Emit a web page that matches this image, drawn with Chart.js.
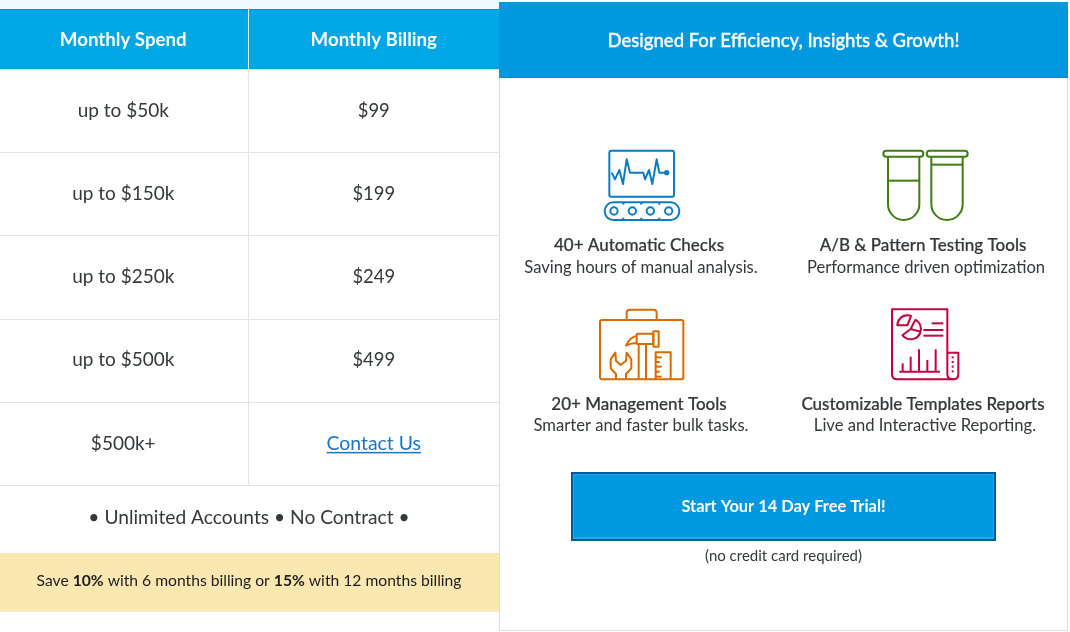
<!DOCTYPE html>
<html><head><meta charset="utf-8">
<style>html,body{margin:0;padding:0;background:#fff}canvas{display:block}</style>
<script src="https://cdn.jsdelivr.net/npm/chart.js@4/dist/chart.umd.min.js"></script>
</head><body>
<canvas id="c" width="1070" height="632"></canvas>
<script>
const columnHeaders = ['Monthly Spend', 'Monthly Billing'];
const spendTiers = ['up to $50k', 'up to $150k', 'up to $250k', 'up to $500k', '$500k+'];
const billingPrices = ['$99', '$199', '$249', '$499', 'Contact Us'];
const noteText = '• Unlimited Accounts • No Contract •';
const saveSegments = [['Save ', 0], ['10%', 1], [' with 6 months billing or ', 0], ['15%', 1], [' with 12 months billing', 0]];
const panelTitle = 'Designed For Efficiency, Insights & Growth!';
const featureTitles = ['40+ Automatic Checks', 'A/B & Pattern Testing Tools', '20+ Management Tools', 'Customizable Templates Reports'];
const featureTexts = ['Saving hours of manual analysis.', 'Performance driven optimization', 'Smarter and faster bulk tasks.', 'Live and Interactive Reporting.'];
const ctaLabel = 'Start Your 14 Day Free Trial!';
const ctaNote = '(no credit card required)';

const FONT = 'Lato, sans-serif';
const INK = '#33383a';

function text(ctx, s, x, y, font, color, embolden) {
  ctx.font = font; ctx.fillStyle = color; ctx.textAlign = 'center'; ctx.textBaseline = 'middle';
  ctx.fillText(s, x, y);
  if (embolden) { ctx.strokeStyle = color; ctx.lineWidth = embolden; ctx.lineJoin = 'round'; ctx.strokeText(s, x, y); }
}
function rr(ctx, x, y, w, h, r) { ctx.beginPath(); ctx.roundRect(x, y, w, h, r); ctx.stroke(); }
function poly(ctx, pts) {
  ctx.beginPath();
  pts.forEach((p, i) => i ? ctx.lineTo(p[0], p[1]) : ctx.moveTo(p[0], p[1]));
  ctx.stroke();
}
function iconSpace(ctx, ox, oy, color, lw, fn) {
  ctx.save(); ctx.translate(ox, oy); ctx.scale(1 / 3, 1 / 3);
  ctx.strokeStyle = color; ctx.fillStyle = color; ctx.lineWidth = lw; ctx.lineJoin = 'round'; ctx.lineCap = 'butt';
  fn(); ctx.restore();
}
function iconMonitor(ctx) {
  iconSpace(ctx, 590, 140, '#0a7dc2', 6, () => {
    rr(ctx, 58, 32, 194, 138, 6);
    poly(ctx, [[65, 98], [75, 118], [88, 90], [99, 132], [110, 58], [120, 98], [160, 98], [165, 118], [177, 90], [187, 132], [200, 58], [208, 98], [230, 98]]);
    ctx.beginPath(); ctx.arc(230, 98, 8, 0, 7); ctx.fill();
    rr(ctx, 44, 187, 224, 53, 26);
    [72, 127, 181, 236].forEach(x => { ctx.beginPath(); ctx.arc(x, 213, 11, 0, 7); ctx.stroke(); });
    [100, 154, 208].forEach(x => { poly(ctx, [[x, 187], [x, 194]]); poly(ctx, [[x, 233], [x, 240]]); });
  });
}
function iconTubes(ctx) {
  iconSpace(ctx, 590, 140, '#3f7d12', 6, () => {
    [[880, 1000, 894, 988, 122], [1010, 1133, 1024, 1118, 74]].forEach(t => {
      rr(ctx, t[0], 32, t[1] - t[0], 18, 9);
      const r = (t[3] - t[2]) / 2;
      ctx.beginPath(); ctx.moveTo(t[2], 50); ctx.lineTo(t[2], 240 - r);
      ctx.arc(t[2] + r, 240 - r, r, Math.PI, 0, true); ctx.lineTo(t[3], 50); ctx.stroke();
      poly(ctx, [[t[2], t[4]], [t[3], t[4]]]);
    });
  });
}
function iconToolbox(ctx) {
  iconSpace(ctx, 590, 300, '#d96a00', 6, () => {
    rr(ctx, 30, 60, 250, 178, 6);
    ctx.beginPath(); ctx.moveTo(110, 60); ctx.lineTo(110, 38); ctx.quadraticCurveTo(110, 29, 120, 29);
    ctx.lineTo(190, 29); ctx.quadraticCurveTo(200, 29, 200, 38); ctx.lineTo(200, 60); ctx.stroke();
    poly(ctx, [[146, 132], [146, 238]]); poly(ctx, [[168, 132], [168, 238]]);
    rr(ctx, 140, 101, 50, 31, 2); rr(ctx, 190, 94, 16, 46, 1);
    ctx.beginPath(); ctx.moveTo(140, 108); ctx.quadraticCurveTo(118, 112, 108, 137); ctx.quadraticCurveTo(122, 128, 140, 130); ctx.stroke();
    poly(ctx, [[78, 238], [78, 222], [62, 205], [62, 178], [76, 158], [78, 182], [92, 195], [108, 182], [110, 158], [124, 178], [124, 205], [108, 222], [108, 238]]);
    poly(ctx, [[197, 238], [197, 157], [242, 157], [242, 238]]);
    [[172, 18], [186, 12], [200, 18], [215, 12], [230, 18]].forEach(t => poly(ctx, [[197, t[0]], [197 + t[1], t[0]]]));
  });
}
function iconReport(ctx) {
  iconSpace(ctx, 590, 300, '#c4003f', 6, () => {
    ctx.beginPath(); ctx.moveTo(1072, 222); ctx.lineTo(1072, 28); ctx.lineTo(906, 28); ctx.lineTo(906, 222);
    ctx.quadraticCurveTo(906, 238, 922, 238); ctx.lineTo(1090, 238); ctx.quadraticCurveTo(1105, 238, 1105, 222);
    ctx.lineTo(1105, 158); ctx.lineTo(1072, 158); ctx.stroke();
    ctx.beginPath(); ctx.moveTo(1072, 222); ctx.quadraticCurveTo(1072, 238, 1090, 238); ctx.stroke();
    [172, 186, 200, 214].forEach(y => poly(ctx, [[1088, y - 3], [1088, y + 3]]));
    ctx.beginPath(); ctx.arc(962, 87, 31, -1.15, 2.5); ctx.lineTo(962, 87); ctx.lineTo(976, 59); ctx.stroke();
    poly(ctx, [[962, 87], [992, 95]]);
    ctx.beginPath(); ctx.moveTo(922, 76); ctx.arc(952, 76, 30, Math.PI, -1.2); ctx.lineTo(952, 76); ctx.closePath(); ctx.stroke();
    poly(ctx, [[1025, 70], [1060, 70]]); poly(ctx, [[1000, 90], [1060, 90]]); poly(ctx, [[1000, 107], [1060, 107]]);
    poly(ctx, [[928, 215], [1050, 215]]);
    [[938, 190], [962, 170], [987, 148], [1012, 180], [1037, 148]].forEach(b => poly(ctx, [[b[0], 215], [b[0], b[1]]]));
  });
}

const tablePanel = {
  id: 'tablePanel',
  afterLayout(chart) {
    // the reference's first column is slightly narrower: start the x scale just off-canvas
    const x = chart.scales.x;
    x.left = -2; x.width = x.right - x.left; x.configure();
  },
  beforeDraw(chart) {
    const { ctx, scales: { x }, chartArea: a } = chart;
    ctx.save();
    ctx.fillStyle = '#f0f9fd'; ctx.fillRect(0, 0, a.right, 9);
    ctx.fillStyle = '#00a7e5'; ctx.fillRect(0, 9, a.right, a.top - 9);
    ctx.fillStyle = '#0395d2'; ctx.fillRect(0, 9, a.right, 1); ctx.fillRect(0, a.top - 1, a.right, 1);
    ctx.fillStyle = '#e8f6fc'; ctx.fillRect((x.getPixelForValue(0) + x.getPixelForValue(1)) / 2 - 0.5, 9, 1, a.top - 9);
    ctx.restore();
  },
  afterDraw(chart) {
    const { ctx, chartArea: a } = chart;
    ctx.save();
    // table cells sit at the points the library placed
    chart.getDatasetMeta(0).data.forEach((pt, i) => text(ctx, spendTiers[i], pt.x, pt.y - 0.5, '400 19px ' + FONT, INK));
    chart.getDatasetMeta(1).data.forEach((pt, i) => {
      const s = billingPrices[i], link = s === 'Contact Us';
      text(ctx, s, pt.x, pt.y - 0.5, (link ? '400 19.4px ' : '400 18.4px ') + FONT, link ? '#1a76c4' : INK);
      if (link) {
        const w = ctx.measureText(s).width;
        ctx.fillStyle = '#1a76c4'; ctx.fillRect(pt.x - w / 2, pt.y + 8, w, 1.5);
      }
    });
    text(ctx, noteText, 249, 518, '400 19.2px ' + FONT, INK);
    ctx.fillStyle = '#fbe7b0'; ctx.fillRect(0, 553, a.right, 58);
    ctx.fillStyle = '#eeeeee'; ctx.fillRect(0, 611, a.right, 1);
    // mixed weight savings line
    const fonts = ['400 15.67px ' + FONT, '700 15.67px ' + FONT];
    let total = 0;
    saveSegments.forEach(s => { ctx.font = fonts[s[1]]; total += ctx.measureText(s[0]).width; });
    let cx = 249 - total / 2;
    ctx.textAlign = 'left'; ctx.textBaseline = 'middle'; ctx.fillStyle = '#1c1c1c';
    saveSegments.forEach(s => { ctx.font = fonts[s[1]]; ctx.fillText(s[0], cx, 581); cx += ctx.measureText(s[0]).width; });

    // right panel
    ctx.fillStyle = '#ffffff'; ctx.fillRect(499, 0, 571, 632);
    ctx.strokeStyle = '#dddddd'; ctx.lineWidth = 1; ctx.strokeRect(499.5, 2.5, 568, 628);
    ctx.fillStyle = '#0098df'; ctx.fillRect(499, 2, 569, 76);
    ctx.fillStyle = '#0a86c6'; ctx.fillRect(499, 77, 569, 1);
    text(ctx, panelTitle, 783.5, 41, '500 18.5px ' + FONT, '#ffffff', 0.3);
    const centers = [[639, 641, 246, 267.5], [923, 926, 246, 267.5], [639, 641, 405, 426], [923, 925, 405, 426]];
    centers.forEach((c, i) => {
      text(ctx, featureTitles[i], c[0], c[2], '500 17px ' + FONT, INK, 0.2);
      text(ctx, featureTexts[i], c[1], c[3], '400 16.6px ' + FONT, INK);
    });
    iconMonitor(ctx); iconTubes(ctx); iconToolbox(ctx); iconReport(ctx);
    ctx.fillStyle = '#005a9e'; ctx.fillRect(571, 472, 425, 69);
    ctx.fillStyle = '#2aa5ea'; ctx.fillRect(573, 474, 421, 65);
    ctx.fillStyle = '#0098df'; ctx.fillRect(574, 475, 419, 62);
    text(ctx, ctaLabel, 783.5, 507, '700 16.4px ' + FONT, '#ffffff');
    text(ctx, ctaNote, 783.5, 556, '400 15px ' + FONT, INK);
    ctx.restore();
  }
};

new Chart(document.getElementById('c'), {
  type: 'scatter',
  plugins: [tablePanel],
  data: {
    datasets: [
      { data: spendTiers.map(t => ({ x: columnHeaders[0], y: t })), pointRadius: 0 },
      { data: spendTiers.map(t => ({ x: columnHeaders[1], y: t })), pointRadius: 0 }
    ]
  },
  options: {
    responsive: false, animation: false, devicePixelRatio: 1, events: [],
    layout: { padding: { left: 0, top: 9, right: 571, bottom: 146.5 } },
    plugins: { legend: { display: false }, tooltip: { enabled: false } },
    scales: {
      x: {
        type: 'category', labels: columnHeaders, position: 'top', offset: true,
        border: { display: false },
        grid: { offset: true, drawTicks: false, color: c => c.index === 1 ? '#e3e3e3' : 'transparent' },
        ticks: { color: '#ffffff', padding: 18, font: { family: 'Lato', size: 18.7, weight: '700' }, maxRotation: 0, autoSkip: false },
        afterFit(s) { s.height = 60.5; }
      },
      y: {
        type: 'category', labels: spendTiers, offset: true,
        border: { display: false },
        grid: { offset: true, drawTicks: false, color: '#e3e3e3' },
        ticks: { display: false }
      }
    }
  }
});
</script>
</body></html>
